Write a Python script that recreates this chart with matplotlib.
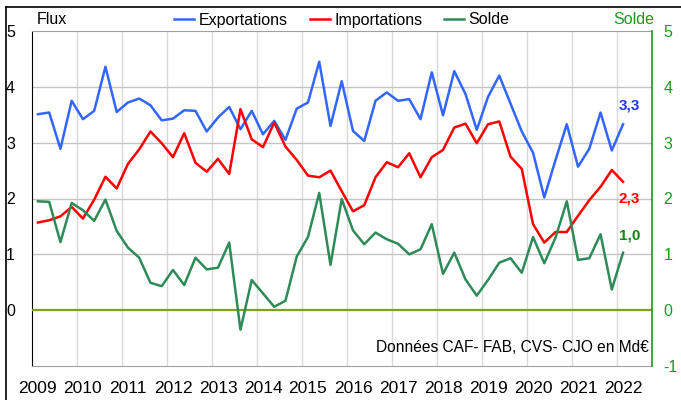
import matplotlib
matplotlib.use("Agg")
import matplotlib.pyplot as plt
from matplotlib.lines import Line2D
import numpy as np

plt.rcParams["font.family"] = ["Liberation Sans", "DejaVu Sans"]

# Quarterly flows, 2009 Q1 -> 2022 Q1, Md€
years = list(range(2009, 2023))
exportations = [
    3.51, 3.54, 2.89, 3.75, 3.42, 3.57, 4.36, 3.55, 3.72, 3.79, 3.67, 3.40, 3.43, 3.58,
    3.57, 3.20, 3.45, 3.64, 3.24, 3.57, 3.15, 3.39, 3.05, 3.61, 3.72, 4.45, 3.30, 4.10,
    3.21, 3.03, 3.75, 3.90, 3.75, 3.78, 3.42, 4.26, 3.49, 4.28, 3.87, 3.23, 3.82, 4.20,
    3.70, 3.20, 2.82, 2.02, 2.69, 3.33, 2.57, 2.89, 3.54, 2.86, 3.33,
]
importations = [
    1.57, 1.61, 1.68, 1.85, 1.64, 1.98, 2.39, 2.18, 2.62, 2.88, 3.20, 2.99, 2.74, 3.17,
    2.64, 2.48, 2.71, 2.44, 3.60, 3.06, 2.92, 3.36, 2.93, 2.69, 2.41, 2.38, 2.50, 2.13,
    1.77, 1.88, 2.38, 2.65, 2.56, 2.81, 2.38, 2.74, 2.87, 3.27, 3.34, 2.99, 3.33, 3.38,
    2.75, 2.53, 1.54, 1.21, 1.40, 1.40, 1.69, 1.97, 2.21, 2.51, 2.30,
]
solde = [
    1.95, 1.94, 1.22, 1.92, 1.79, 1.60, 1.98, 1.42, 1.12, 0.94, 0.49, 0.43, 0.72, 0.45,
    0.94, 0.73, 0.76, 1.21, -0.35, 0.54, 0.30, 0.06, 0.17, 0.96, 1.31, 2.10, 0.81, 1.99,
    1.43, 1.18, 1.39, 1.27, 1.19, 1.00, 1.09, 1.54, 0.65, 1.03, 0.55, 0.26, 0.54, 0.85,
    0.93, 0.67, 1.31, 0.84, 1.30, 1.95, 0.90, 0.93, 1.36, 0.37, 1.03,
]

BLUE = "#3366FF"
RED = "#FF0000"
GREEN = "#2E8B57"
DARK_GREEN = "#1A9A1A"
OLIVE = "#7FA318"

x = np.arange(len(exportations)) + 0.5

fig = plt.figure(figsize=(6.81, 4.0), dpi=100)
ax = fig.add_axes([32.3 / 681, 34 / 400, 620 / 681, 335 / 400])

ax.plot(x, exportations, color=BLUE, lw=1.8, zorder=4)
ax.plot(x, importations, color=RED, lw=1.8, zorder=4)
ax.plot(x, solde, color=GREEN, lw=1.8, zorder=4)
ax.axhline(0, color=OLIVE, lw=1.6, zorder=3)

ax.set_xlim(0, 55.1)
ax.set_ylim(-1, 5)

# grid: year boundaries + integer levels
for b in range(4, 56, 4):
    ax.axvline(b, color="#D9D9D9", lw=1.0, zorder=1)
for lvl in range(1, 5):
    ax.axhline(lvl, color="#C4C4C4", lw=1.0, zorder=1)

ax.set_xticks(np.arange(len(years)) * 4 + 0.5)
ax.set_xticklabels([str(y) for y in years], fontsize=12.5)
ax.tick_params(axis="x", length=0, pad=10.5)
ax.set_yticks(range(0, 6))
ax.set_yticklabels([str(v) for v in range(0, 6)], fontsize=11.5)
ax.tick_params(axis="y", length=0, pad=12.5)

for side in ("top", "bottom"):
    ax.spines[side].set_color("#A0A0A0")
ax.spines["left"].set_color("black")
ax.spines["right"].set_visible(False)

ax2 = ax.twinx()
ax2.set_ylim(-1, 5)
ax2.set_yticks(range(-1, 6))
ax2.set_yticklabels([str(v) for v in range(-1, 6)], fontsize=11.5, color=DARK_GREEN)
ax2.tick_params(axis="y", length=0, pad=8)
for side in ("top", "bottom", "left"):
    ax2.spines[side].set_visible(False)
ax2.spines["right"].set_color(DARK_GREEN)
ax2.spines["right"].set_linewidth(1.2)

# last values
def fr(v):
    return f"{v:.1f}".replace(".", ",")

ax.text(x[-1] + 0.55, exportations[-1] + 0.34, fr(exportations[-1]),
        color="#2233EE", fontsize=11, fontweight="bold", ha="center", va="center")
ax.text(x[-1] + 0.55, importations[-1] - 0.30, fr(importations[-1]),
        color=RED, fontsize=11, fontweight="bold", ha="center", va="center")
ax.text(x[-1] + 0.55, solde[-1] + 0.31, fr(solde[-1]),
        color="#118811", fontsize=11, fontweight="bold", ha="center", va="center")

ax.text(0.995, 0.055, "Données CAF- FAB, CVS- CJO en Md€", transform=ax.transAxes,
        ha="right", va="center", fontsize=11.2)

# header
fig.text(37 / 681, 1 - 20 / 400, "Flux", fontsize=11.5, ha="left", va="center")
fig.text(654 / 681, 1 - 20 / 400, "Solde", fontsize=11.5, ha="right", va="center",
         color=DARK_GREEN)
handles = [Line2D([], [], color=c, lw=1.8) for c in (BLUE, RED, GREEN)]
fig.legend(handles, ["Exportations", "Importations", "Solde"], loc="center",
           bbox_to_anchor=(342 / 681, 1 - 20 / 400), ncol=3, frameon=False,
           fontsize=11.5, handlelength=1.25, handletextpad=0.3, columnspacing=1.35,
           borderpad=0, borderaxespad=0)

# outer frame (left and top edges)
fig.add_artist(Line2D([5.5 / 681, 5.5 / 681], [0, 1 - 7 / 400], color="black", lw=1.2,
                      transform=fig.transFigure))
fig.add_artist(Line2D([5.5 / 681, 1], [1 - 7 / 400, 1 - 7 / 400], color="black", lw=1.2,
                      transform=fig.transFigure))

fig.savefig("out.png", dpi=100, facecolor="white")
